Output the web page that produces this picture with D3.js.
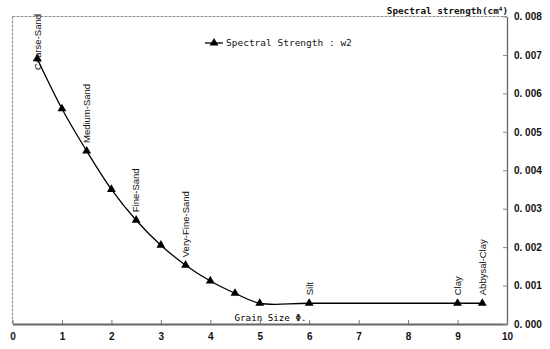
<!DOCTYPE html>
<html>
<head>
<meta charset="utf-8">
<script src="https://cdn.jsdelivr.net/npm/d3@7"></script>
<style>
  html, body { margin: 0; padding: 0; background: #fff; }
  svg { display: block; }
</style>
</head>
<body>
<script>
// Grain size (phi) and spectral strength (cm^4) for each sediment class
const grainSize = [0.5, 1.0, 1.5, 2.0, 2.5, 3.0, 3.5, 4.0, 4.5, 5.0, 6.0, 9.0, 9.5];
const spectralStrength = [0.0069, 0.0056, 0.0045, 0.0035, 0.0027, 0.00205, 0.00153, 0.00112, 0.0008, 0.00054, 0.00054, 0.00054, 0.00054];
const sedimentNames = ["Coarse-Sand", "", "Medium-Sand", "", "Fine-Sand", "", "Very-Fine-Sand", "", "", "", "Silt", "Clay", "Abbysal-Clay"];
const xTicks = [0, 1, 2, 3, 4, 5, 6, 7, 8, 9, 10];
const yTicks = [0, 0.001, 0.002, 0.003, 0.004, 0.005, 0.006, 0.007, 0.008];
const seriesName = "Spectral Strength : w2";
const xTitle = "Grain Size  \u03A6.";
const yTitle = "Spectral strength(cm";

const W = 550, H = 349;
const plot = { left: 12.5, right: 507, top: 16.5, bottom: 324 };

const svg = d3.select("body").append("svg").attr("width", W).attr("height", H);

const x = d3.scaleLinear().domain([0, 10]).range([plot.left, plot.right]);
const y = d3.scaleLinear().domain([0, 0.008]).range([plot.bottom, plot.top]);

const tickFont = "'Liberation Sans', Arial, sans-serif";
const monoFont = "'DejaVu Sans Mono', 'Liberation Mono', monospace";

// plot frame: light left and top edges
svg.append("line").attr("x1", plot.left).attr("x2", plot.left)
  .attr("y1", plot.top).attr("y2", plot.bottom)
  .attr("stroke", "#9a9a9a").attr("stroke-width", 1.2).attr("stroke-dasharray", "3,1");
svg.append("line").attr("x1", plot.left).attr("x2", plot.right)
  .attr("y1", plot.top).attr("y2", plot.top)
  .attr("stroke", "#8e8e8e").attr("stroke-width", 1.2).attr("stroke-dasharray", "3,1");

// bottom axis
const xAxis = d3.axisBottom(x).tickValues(xTicks).tickFormat(d3.format("d"))
  .tickSizeInner(-4).tickSizeOuter(0).tickPadding(9);
const gx = svg.append("g").attr("transform", `translate(0,${plot.bottom})`).call(xAxis);
gx.select(".domain").attr("stroke", "#666").attr("stroke-width", 2);
gx.selectAll(".tick line").attr("stroke", "#777");
gx.selectAll(".tick text").attr("font-family", tickFont).attr("font-size", 10)
  .attr("font-weight", "bold").attr("fill", "#111");

// right value axis
const yAxis = d3.axisRight(y).tickValues(yTicks)
  .tickFormat(d => d3.format(".3f")(d).replace(".", ". "))
  .tickSizeInner(-4).tickSizeOuter(0).tickPadding(7);
const gy = svg.append("g").attr("transform", `translate(${plot.right},0)`).call(yAxis);
gy.select(".domain").attr("stroke", "#666").attr("stroke-width", 1.3);
gy.selectAll(".tick line").attr("stroke", "#888");
gy.selectAll(".tick text").attr("font-family", tickFont).attr("font-size", 10)
  .attr("font-weight", "bold").attr("fill", "#111");

// right axis title
const yt = svg.append("text").attr("x", plot.right + 1).attr("y", 14)
  .attr("text-anchor", "end").attr("font-family", monoFont).attr("font-size", 9.3)
  .attr("font-weight", "bold").attr("fill", "#111");
yt.append("tspan").text(yTitle);
yt.append("tspan").attr("font-size", 6).attr("dy", -3.5).text("4");
yt.append("tspan").attr("dy", 3.5).text(")");

// category axis title
svg.append("text").attr("x", 270.5).attr("y", 321).attr("text-anchor", "middle")
  .attr("font-family", monoFont).attr("font-size", 9.2)
  .attr("fill", "#000").text(xTitle);

const data = grainSize.map((g, i) => ({ g, v: spectralStrength[i], name: sedimentNames[i] }));

// smoothed curve
const line = d3.line().x(d => x(d.g)).y(d => y(d.v)).curve(d3.curveCatmullRom.alpha(0.5));
svg.append("path").datum(data).attr("d", line)
  .attr("fill", "none").attr("stroke", "#000").attr("stroke-width", 1.3);

// triangle markers
const tri = d3.symbol().type(d3.symbolTriangle).size(34);
svg.selectAll("path.marker").data(data).join("path").attr("class", "marker")
  .attr("d", tri).attr("transform", d => `translate(${x(d.g)},${y(d.v)})`)
  .attr("fill", "#000");

// vertical class labels above points, kept inside the frame
const labels = svg.selectAll("text.cls").data(data.filter(d => d.name)).join("text")
  .attr("class", "cls").attr("font-family", tickFont).attr("font-size", 9.5)
  .attr("fill", "#111").attr("text-anchor", "start").attr("dy", "0.35em")
  .text(d => d.name);
labels.each(function (d) {
  const len = this.getComputedTextLength();
  let bottom = y(d.v) - 8;
  if (bottom - len < 14) bottom = 14 + len;
  d3.select(this).attr("transform", `translate(${x(d.g)},${bottom}) rotate(-90)`);
});

// legend
const lg = svg.append("g").attr("transform", "translate(205,43)");
lg.append("line").attr("x1", 0).attr("x2", 18).attr("y1", 0).attr("y2", 0)
  .attr("stroke", "#000").attr("stroke-width", 1.3);
lg.append("path").attr("d", tri).attr("transform", "translate(9,0)").attr("fill", "#000");
lg.append("text").attr("x", 21).attr("y", 0).attr("dy", "0.35em")
  .attr("font-family", monoFont).attr("font-size", 9.5).attr("fill", "#111")
  .text(seriesName);
</script>
</body>
</html>
